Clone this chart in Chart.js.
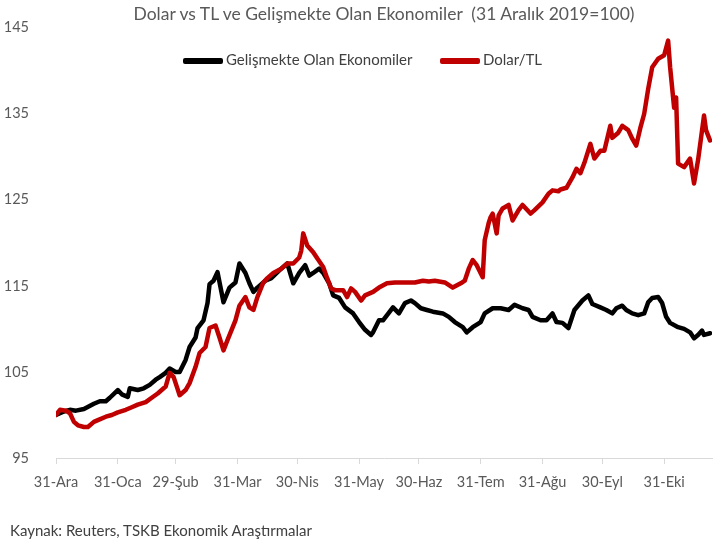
<!DOCTYPE html>
<html>
<head>
<meta charset="utf-8">
<script src="https://cdn.jsdelivr.net/npm/chart.js@4"></script>
<style>
  body { margin: 0; background: #fff; font-family: Lato, "Open Sans", sans-serif; }
  #wrap { position: relative; width: 723px; height: 544px; }
  #title { position: absolute; left: 384px; top: 3px; transform: translateX(-50%); white-space: pre; font-size: 17.5px; color: #595959; }
  .leg { position: absolute; top: 50px; font-size: 15px; color: #404040; white-space: nowrap; }
  .leg i { display: inline-block; width: 40px; height: 6px; vertical-align: middle; margin-right: 3px; border-radius: 2px; }
  #source { position: absolute; left: 10px; top: 521px; font-size: 15px; color: #404040; white-space: nowrap; }
</style>
</head>
<body>
<div id="wrap">
  <canvas id="chart" width="723" height="544"></canvas>
  <div id="title">Dolar vs TL ve Gelişmekte Olan Ekonomiler  (31 Aralık 2019=100)</div>
  <div class="leg" style="left:183px"><i style="background:#000"></i>Gelişmekte Olan Ekonomiler</div>
  <div class="leg" style="left:440px"><i style="background:#c00000"></i>Dolar/TL</div>
  <div id="source">Kaynak: Reuters, TSKB Ekonomik Araştırmalar</div>
</div>
<script>
// x values are days after 31 Dec 2019
var tickDays = [0, 31, 60, 91, 121, 152, 182, 213, 244, 274, 305];
var tickLabels = ['31-Ara', '31-Oca', '29-Şub', '31-Mar', '30-Nis', '31-May', '30-Haz', '31-Tem', '31-Ağu', '30-Eyl', '31-Eki'];

var emDays = [0, 4, 7, 10, 14, 19, 22, 25, 27, 31, 33, 36, 37, 41, 44, 47, 50, 52, 55, 57, 60, 62, 65, 67, 70, 71, 74, 76, 77, 79,
  81, 84, 87, 90, 92, 95, 97, 99, 101, 105, 108, 112, 116, 119, 122, 125, 127, 129, 132, 134, 137, 139, 142, 145, 149, 152, 155, 158, 159, 162,
  164, 167, 169, 172, 175, 178, 180, 183, 186, 189, 194, 197, 200, 204, 206, 209, 213, 215, 219, 223, 227, 230, 234, 237, 239, 243, 246, 249, 251, 254,
  257, 260, 264, 267, 269, 273, 276, 279, 281, 284, 286, 289, 292, 295, 297, 299, 302, 304, 306, 308, 312, 315, 318, 320, 322, 324, 325, 328];
var emValues = [100.0, 100.4, 100.6, 100.5, 100.7, 101.3, 101.6, 101.6, 102.0, 102.9, 102.4, 102.1, 103.1, 102.9, 103.1, 103.5, 104.1, 104.4, 104.9, 105.4, 105.0, 105.0, 106.4, 107.9, 109.0, 110.1, 111.0, 113.0, 115.2, 115.6,
  116.6, 113.1, 114.8, 115.4, 117.6, 116.5, 115.3, 114.3, 114.8, 115.6, 115.9, 116.8, 117.6, 115.3, 116.5, 117.4, 116.2, 116.5, 117.0, 116.5, 115.3, 113.9, 113.6, 112.5, 111.8, 110.8, 109.9, 109.3, 109.6, 111.0,
  111.0, 111.9, 112.5, 111.8, 113.0, 113.3, 113.0, 112.4, 112.2, 112.0, 111.8, 111.4, 110.8, 110.2, 109.6, 110.2, 110.8, 111.8, 112.4, 112.4, 112.2, 112.8, 112.4, 112.2, 111.4, 111.0, 111.0, 111.8, 110.8, 110.7,
  110.1, 112.2, 113.3, 113.9, 112.9, 112.5, 112.2, 111.8, 112.4, 112.7, 112.2, 111.8, 111.6, 111.8, 113.1, 113.6, 113.7, 113.0, 111.4, 110.7, 110.2, 110.0, 109.6, 108.9, 109.3, 109.8, 109.3, 109.5];

var usdDays = [0, 2, 5, 7, 9, 11, 14, 16, 19, 21, 25, 28, 31, 35, 38, 41, 45, 48, 51, 55, 57, 59, 61, 62, 65, 67, 70, 72, 75, 77,
  80, 82, 84, 86, 90, 92, 95, 97, 99, 101, 104, 106, 109, 113, 116, 119, 122, 123, 124, 126, 129, 131, 134, 136, 138, 140, 144, 146, 148, 150,
  153, 155, 159, 162, 166, 170, 175, 180, 184, 187, 190, 195, 199, 203, 205, 207, 209, 211, 214, 215, 217, 218, 219, 221, 222, 224, 227, 229, 232, 234,
  238, 240, 244, 247, 249, 252, 253, 256, 259, 261, 263, 265, 268, 270, 273, 275, 278, 279, 282, 284, 287, 289, 291, 293, 295, 297, 299, 302, 305, 307,
  308, 310, 311, 312, 315, 318, 320, 322, 325, 326, 328];
var usdValues = [100.0, 100.6, 100.5, 100.2, 99.2, 98.8, 98.6, 98.6, 99.2, 99.4, 99.8, 100.0, 100.3, 100.6, 100.9, 101.2, 101.5, 102.0, 102.5, 103.3, 104.9, 104.4, 103.0, 102.3, 102.9, 103.7, 105.6, 107.2, 107.9, 110.1,
  110.4, 109.0, 107.5, 108.7, 111.0, 112.7, 113.7, 112.5, 112.2, 113.7, 115.4, 115.9, 116.5, 117.0, 117.6, 117.6, 118.3, 119.1, 121.1, 119.7, 118.9, 118.2, 117.2, 115.9, 114.7, 114.5, 114.5, 113.7, 114.7, 114.3,
  113.3, 113.9, 114.3, 114.8, 115.3, 115.4, 115.4, 115.4, 115.6, 115.5, 115.6, 115.4, 114.8, 115.3, 115.6, 117.0, 118.0, 117.4, 116.0, 120.3, 122.3, 123.0, 123.4, 121.1, 123.2, 124.0, 124.4, 122.6, 123.8, 124.4,
  123.4, 123.8, 124.7, 125.7, 126.1, 126.0, 126.2, 126.4, 127.6, 128.6, 128.1, 129.3, 131.5, 129.8, 130.7, 130.7, 133.6, 132.2, 132.8, 133.6, 133.1, 132.1, 131.3, 133.3, 135.0, 137.9, 140.4, 141.4, 141.8, 143.5,
  140.4, 135.7, 136.9, 129.2, 128.8, 129.8, 126.9, 129.6, 134.8, 133.1, 131.9];

function pairs(days, vals) {
  return days.map(function (d, i) { return { x: d, y: vals[i] }; });
}

var tickFont = { family: 'Lato, "Open Sans", sans-serif', size: 14.5 };

new Chart(document.getElementById('chart'), {
  type: 'line',
  data: {
    datasets: [{
      label: 'Gelişmekte Olan Ekonomiler',
      data: pairs(emDays, emValues),
      borderColor: '#000000',
      borderWidth: 4.5,
      order: 1
    }, {
      label: 'Dolar/TL',
      data: pairs(usdDays, usdValues),
      borderColor: '#c00000',
      borderWidth: 4.5,
      order: 0
    }]
  },
  options: {
    responsive: false,
    animation: false,
    devicePixelRatio: 1,
    elements: {
      point: { radius: 0 },
      line: { tension: 0, borderJoinStyle: 'round', borderCapStyle: 'round' }
    },
    layout: { padding: { top: 27, right: 11, bottom: 40, left: 0 } },
    plugins: { legend: { display: false }, title: { display: false }, tooltip: { enabled: false } },
    scales: {
      x: {
        type: 'linear',
        min: 0,
        max: 329,
        afterBuildTicks: function (scale) {
          scale.ticks = tickDays.map(function (d) { return { value: d }; });
        },
        afterFit: function (scale) { scale.height = 46; },
        ticks: {
          autoSkip: false,
          maxRotation: 0,
          padding: 10,
          color: '#595959',
          font: tickFont,
          callback: function (v) { return tickLabels[tickDays.indexOf(v)]; }
        },
        grid: { display: true, drawOnChartArea: false, drawTicks: true, tickLength: 6, color: '#d9d9d9' },
        border: { display: true, color: '#d9d9d9' }
      },
      y: {
        min: 95,
        max: 145,
        afterFit: function (scale) { scale.width = 56; },
        ticks: { stepSize: 10, padding: 19, color: '#595959', font: tickFont },
        grid: { display: false },
        border: { display: false }
      }
    }
  }
});
</script>
</body>
</html>
